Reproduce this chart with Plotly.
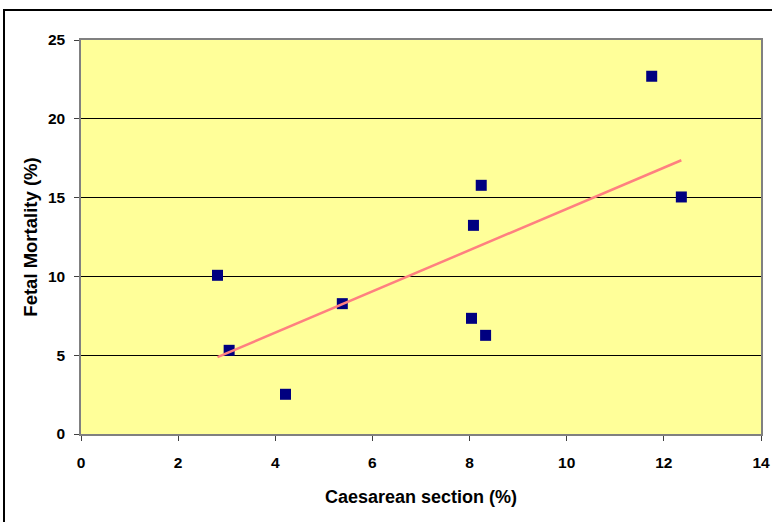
import numpy as np
import plotly.graph_objects as go

# Caesarean section rate vs fetal mortality, per region
caesarean_pct = [2.81, 3.05, 4.21, 5.38, 8.04, 8.08, 8.24, 8.33, 11.75, 12.36]
fetal_mortality_pct = [10.07, 5.31, 2.52, 8.27, 7.34, 13.24, 15.78, 6.26, 22.70, 15.04]

x_ticks = [0, 2, 4, 6, 8, 10, 12, 14]
y_ticks = [0, 5, 10, 15, 20, 25]

# least-squares linear trend
slope, intercept = np.polyfit(caesarean_pct, fetal_mortality_pct, 1)
trend_x = [min(caesarean_pct), max(caesarean_pct)]
trend_y = [slope * v + intercept for v in trend_x]

fig = go.Figure()
fig.add_trace(go.Scatter(
    x=caesarean_pct, y=fetal_mortality_pct, mode="markers",
    marker=dict(symbol="square", size=11, color="#000080", line=dict(width=0)),
    showlegend=False, cliponaxis=False,
))
fig.add_trace(go.Scatter(
    x=trend_x, y=trend_y, mode="lines",
    line=dict(color="#FF8080", width=2.5),
    showlegend=False,
))

font = "Liberation Sans, Arial, sans-serif"
fig.update_layout(
    width=772, height=522,
    margin=dict(l=81, r=11, t=40, b=88),
    paper_bgcolor="white", plot_bgcolor="#FFFF99",
    font=dict(family=font, color="black"),
    xaxis=dict(
        range=[0, 14], tickvals=x_ticks, showgrid=False, zeroline=False,
        automargin=False,
        showline=True, linecolor="#808080", linewidth=1.5, mirror=True,
        ticks="outside", ticklen=5, tickcolor="#404040",
        tickfont=dict(size=15.5, family=font, weight="bold"),
        ticklabelstandoff=9,
        title=dict(text="<b>Caesarean section (%)</b>", font=dict(size=18), standoff=20),
    ),
    yaxis=dict(
        range=[0, 25], tickvals=y_ticks, showgrid=True, gridcolor="black", gridwidth=1,
        zeroline=False, automargin=False,
        showline=True, linecolor="#808080", linewidth=1.5, mirror=True,
        ticks="outside", ticklen=5, tickcolor="#404040",
        tickfont=dict(size=15.5, family=font, weight="bold"),
        ticklabelstandoff=6,
        title=dict(text="<b>Fetal Mortality (%)</b>", font=dict(size=18.5), standoff=5),
    ),
    shapes=[dict(
        type="rect", xref="paper", yref="paper",
        x0=(4 - 81) / 680, x1=1.2, y0=-0.4, y1=(434 - 10) / 394,
        line=dict(color="black", width=2), fillcolor="rgba(0,0,0,0)", layer="below",
    )],
)

fig.write_html("out.html")
